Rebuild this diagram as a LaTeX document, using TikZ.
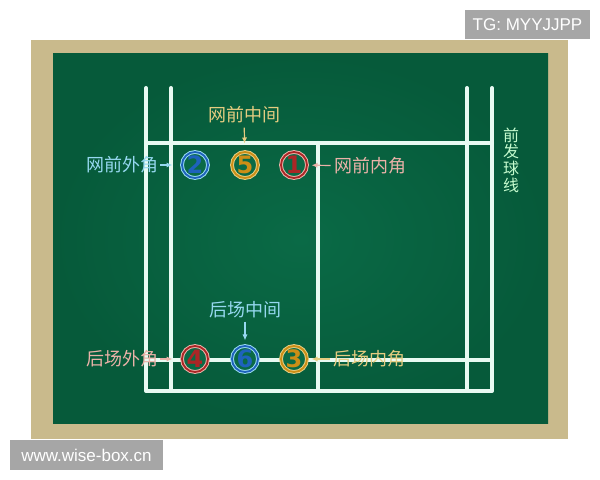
\documentclass[tikz,border=0pt]{standalone}
\usepackage{fontspec}
\newfontfamily\cjk{Noto Sans CJK SC}
\newfontfamily\wmfont{Liberation Sans}
\newfontfamily\numfont{DejaVu Sans}
\usetikzlibrary{arrows.meta,positioning}
\definecolor{board}{RGB}{10,106,70}
\definecolor{boardedge}{RGB}{6,90,58}
\definecolor{frame}{RGB}{201,186,140}
\definecolor{chalk}{RGB}{232,250,242}
\definecolor{lblue}{RGB}{150,216,240}
\definecolor{dblue}{RGB}{30,98,188}
\definecolor{lgold}{RGB}{228,204,128}
\definecolor{dgold}{RGB}{204,142,22}
\definecolor{lred}{RGB}{234,178,168}
\definecolor{dred}{RGB}{172,38,38}
\definecolor{wmgray}{RGB}{166,166,166}
\tikzset{
  court/.style={draw=chalk,line width=2pt,line cap=round,line join=round},
  spot/.style={circle,minimum size=13pt,inner sep=0pt,fill=board,
    draw=l#1,double=d#1,double distance=0.9pt,line width=0.5pt,
    text=d#1,font=\numfont\bfseries\fontsize{12}{12}\selectfont},
  lbl/.style={inner sep=0pt,text=#1,font=\cjk\fontsize{9}{9}\selectfont},
  tip/.style={draw=#1,line width=0.6pt,-{Latex[length=3pt,width=2.6pt]}},
  wm/.style={fill=wmgray,text=white,inner sep=0pt,font=\wmfont\fontsize{8.5}{8.5}\selectfont}
}
\begin{document}
\begin{tikzpicture}[x=0.5pt,y=-0.5pt]
  \useasboundingbox (0,0) rectangle (600,480);
  % blackboard
  \fill[frame] (31,40) rectangle (568,439);
  \shade[inner color=board,outer color=boardedge] (53,54) rectangle (548,424);
  % court lines
  \draw[court] (146,88) -- (146,391) -- (492,391) -- (492,88);
  \draw[court] (171,88) -- (171,391);
  \draw[court] (467,88) -- (467,391);
  \draw[court] (146,143) -- (492,143);
  \draw[court] (146,360) -- (492,360);
  \draw[court] (318,143) -- (318,391);
  % positions
  \node[spot=blue] (c2) at (195,165) {2};
  \node[spot=gold] (c5) at (245,165) {5};
  \node[spot=red]  (c1) at (294,165) {1};
  \node[spot=red]  (c4) at (195,359) {4};
  \node[spot=blue] (c6) at (245,359) {6};
  \node[spot=gold] (c3) at (294,359) {3};
  % labels
  \node[lbl=lgold] (l5) at (244,115) {网前中间};
  \node[lbl=lblue] (l2) at (122,165) {网前外角};
  \node[lbl=lred]  (l1) at (370,166) {网前内角};
  \node[lbl=lblue] (l6) at (245,310) {后场中间};
  \node[lbl=lred]  (l4) at (122,359) {后场外角};
  \node[lbl=lgold] (l3) at (369,359) {后场内角};
  \node[lbl=chalk!85!green,align=center,font=\cjk\fontsize{8}{8.3}\selectfont] (srv) at (511,160) {前\\发\\球\\线};
  % arrows
  \draw[tip=lgold,shorten <=2pt,shorten >=4pt] (l5) -- (c5);
  \draw[tip=lblue,shorten <=1pt,shorten >=4.5pt] (l2) -- (c2);
  \draw[tip=lred,shorten <=1.5pt,shorten >=2pt] (l1) -- (c1);
  \draw[tip=lblue,shorten <=1.5pt,shorten >=2.5pt] (l6) -- (c6);
  \draw[tip=lred,shorten <=1pt,shorten >=4.5pt] (l4) -- (c4);
  \draw[tip=lgold,shorten <=1.5pt,shorten >=2pt] (l3) -- (c3);
  % watermarks
  \node[wm,minimum width=62.5pt,minimum height=14.5pt] (tg) at (527.5,24.5) {TG: MYYJJPP};
  \node[wm,minimum width=76.5pt,minimum height=15pt] (site) at (86.5,455) {www.wise-box.cn};
\end{tikzpicture}
\end{document}
